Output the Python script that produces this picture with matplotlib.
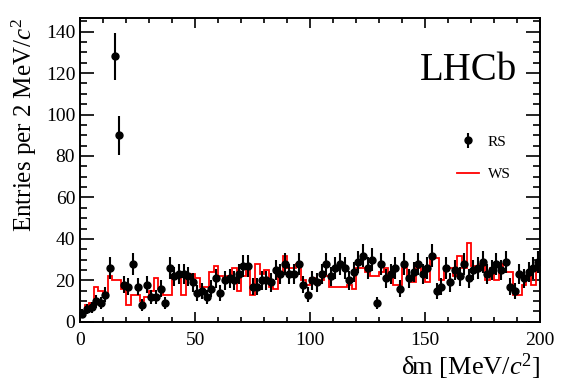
import matplotlib.pyplot as plt
import numpy as np
from matplotlib.ticker import MultipleLocator

plt.rcParams['font.family'] = ['Liberation Serif', 'DejaVu Serif']
plt.rcParams['mathtext.fontset'] = 'custom'
plt.rcParams['mathtext.rm'] = 'Liberation Serif'
plt.rcParams['mathtext.it'] = 'Liberation Serif:italic'

# 2 MeV bins from 0 to 200
edges = np.arange(0, 202, 2)
centres = edges[:-1] + 1

rs = np.array([
    4, 6, 7, 10, 9, 13, 26, 128, 90, 18,
    17, 28, 17, 8, 18, 12, 12, 16, 9, 26,
    22, 23, 23, 22, 19, 14, 15, 12, 16, 21,
    14, 20, 21, 20, 23, 27, 27, 17, 17, 20,
    20, 19, 25, 23, 28, 23, 23, 28, 18, 13,
    20, 19, 23, 28, 22, 26, 28, 26, 20, 24,
    29, 32, 26, 30, 9, 28, 21, 23, 26, 16,
    28, 21, 24, 28, 23, 26, 32, 15, 17, 26,
    19, 25, 22, 28, 21, 25, 26, 29, 23, 25,
    28, 25, 29, 17, 15, 23, 21, 24, 26, 29])

ws = np.array([
    3, 8, 9, 17, 15, 13, 22, 20, 20, 16,
    8, 13, 13, 10, 12, 15, 21, 16, 13, 13,
    22, 22, 13, 23, 23, 21, 17, 17, 24, 27,
    22, 20, 22, 26, 15, 22, 28, 13, 28, 23,
    25, 17, 16, 24, 32, 26, 26, 28, 20, 18,
    21, 19, 20, 22, 17, 17, 17, 17, 18, 16,
    26, 26, 24, 22, 22, 24, 26, 23, 18, 18,
    26, 20, 19, 26, 24, 19, 31, 31, 20, 26,
    26, 22, 32, 26, 38, 27, 26, 28, 20, 26,
    20, 28, 24, 24, 13, 13, 18, 22, 18, 29])

fig = plt.figure(figsize=(5.68, 3.85), dpi=100)
ax = fig.add_axes([0.141, 0.164, 0.810, 0.789])

h_ws = ax.stairs(ws, edges, color='red', lw=1.3, label='WS', zorder=2)
h_rs = ax.errorbar(centres, rs, yerr=np.sqrt(rs), fmt='o', color='black', ms=5,
                   elinewidth=1.5, capsize=0, label='RS', zorder=3)

ax.set_xlim(0, 200)
ax.set_ylim(0, 146.5)
ax.xaxis.set_major_locator(MultipleLocator(50))
ax.xaxis.set_minor_locator(MultipleLocator(10))
ax.yaxis.set_major_locator(MultipleLocator(20))
ax.yaxis.set_minor_locator(MultipleLocator(5))
ax.tick_params(axis='both', which='both', direction='in', top=True, right=True,
               labelsize=14, width=1.2)
ax.tick_params(axis='y', which='major', length=10)
ax.tick_params(axis='y', which='minor', length=5)
ax.tick_params(axis='x', which='major', length=7)
ax.tick_params(axis='x', which='minor', length=3.5)
ax.tick_params(axis='x', pad=7)
for s in ax.spines.values():
    s.set_linewidth(1.4)

ax.set_xlabel(r'δm [MeV/$c^2$]', fontsize=19, loc='right', labelpad=2)
ax.set_ylabel(r'Entries per 2 MeV/$c^2$', fontsize=18, loc='top', labelpad=5)

ax.text(0.95, 0.89, 'LHCb', transform=ax.transAxes, fontsize=28,
        ha='right', va='top')

ax.legend([h_rs, h_ws], ['RS', 'WS'], loc='upper left',
          bbox_to_anchor=(0.79, 0.66), frameon=False,
          fontsize=11, handlelength=1.4, labelspacing=1.2, handletextpad=0.6)

fig.savefig('out.png', dpi=100)
